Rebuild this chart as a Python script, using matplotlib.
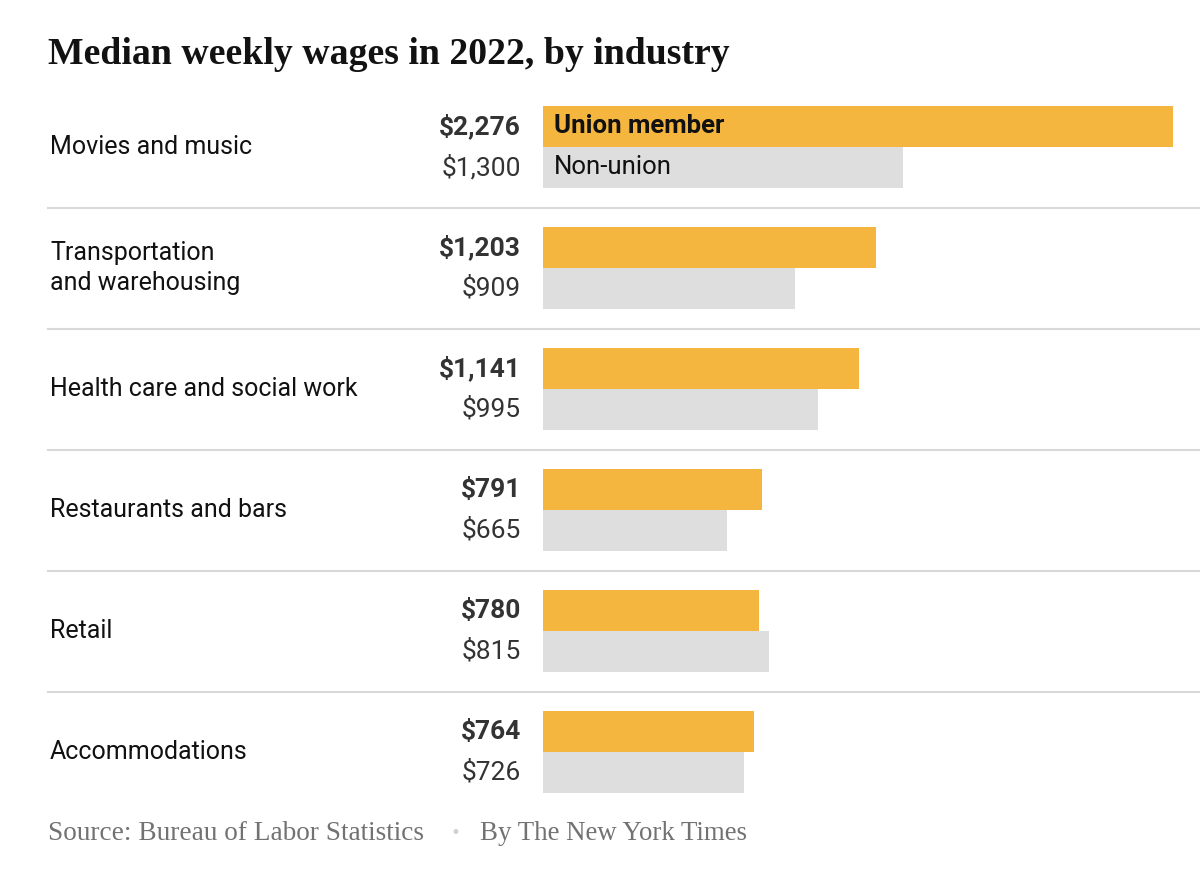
import matplotlib.pyplot as plt
from matplotlib.transforms import blended_transform_factory

industries = ["Movies and music", "Transportation\nand warehousing", "Health care and social work",
              "Restaurants and bars", "Retail", "Accommodations"]
union = [2276, 1203, 1141, 791, 780, 764]
non_union = [1300, 909, 995, 665, 815, 726]

UNION_COL = "#f4b63f"
NON_COL = "#dedede"
SANS = "Roboto"
SERIF = "Liberation Serif"

W, H = 1200, 876
fig = plt.figure(figsize=(W / 100, H / 100), dpi=100)

# bar area in pixels: x 543..1173, y 106..793
ax = fig.add_axes([543 / W, (H - 793) / H, 630 / W, (793 - 106) / H])
h = 41 / 121.4  # bar height in group units
n = len(industries)
ax.set_xlim(0, max(union))
ax.set_ylim(n - 1 + 2 * h, 0)
ax.axis("off")

for i in range(n):
    ax.barh(i + h / 2, union[i], height=h, color=UNION_COL, linewidth=0)
    ax.barh(i + 1.5 * h, non_union[i], height=h, color=NON_COL, linewidth=0)

trans = blended_transform_factory(fig.transFigure, ax.transData)
for i in range(n):
    fig.text(50 / W, i + h, industries[i], transform=trans, ha="left", va="center",
             fontsize=18, family=SANS, color="#111111", linespacing=1.35)
    fig.text(521 / W, i + h / 2, f"${union[i]:,}", transform=trans, ha="right", va="center",
             fontsize=19, family=SANS, fontweight="bold", color="#333333")
    fig.text(521 / W, i + 1.5 * h, f"${non_union[i]:,}", transform=trans, ha="right", va="center",
             fontsize=19, family=SANS, color="#333333")
    if i < n - 1:
        ax.axhline(i + 2 * h + 20 / 121.4, xmin=(48 - 543) / 630, xmax=(1200 - 543) / 630,
                   color="#d8d8d8", linewidth=1.5, clip_on=False)

# legend labels inside the first bars
ax.text(11 / 630 * max(union), h / 2, "Union member", ha="left", va="center",
        fontsize=18.5, family=SANS, fontweight="bold", color="#111111")
ax.text(11 / 630 * max(union), 1.5 * h, "Non-union", ha="left", va="center",
        fontsize=18.5, family=SANS, color="#111111")

fig.text(48 / W, 1 - 55 / H, "Median weekly wages in 2022, by industry", ha="left", va="center",
         fontsize=27.2, family=SERIF, fontweight="bold", color="#121212")
fig.text(48 / W, 1 - 833 / H, "Source: Bureau of Labor Statistics", ha="left", va="center",
         fontsize=19.6, family=SERIF, color="#727272")
fig.text(455 / W, 1 - 833 / H, "\u2022", ha="center", va="center",
         fontsize=12, family="DejaVu Sans", color="#d0d0d0")
fig.text(480 / W, 1 - 833 / H, "By The New York Times", ha="left", va="center",
         fontsize=19.4, family=SERIF, color="#727272")

fig.savefig("out.png", dpi=100)
